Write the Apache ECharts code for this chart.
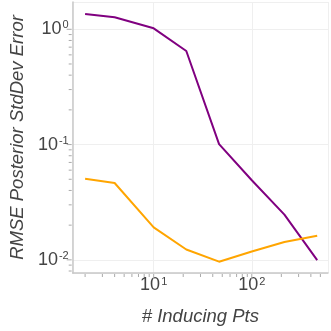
<!DOCTYPE html>
<html lang="en">
<head>
    <meta charset="UTF-8">
    <title>RMSE Posterior StdDev Error</title>
    <script src="https://cdn.jsdelivr.net/npm/echarts@6/dist/echarts.min.js"></script>
    <style>
        body { margin: 0; padding: 0; background: #fff; }
        #main { width: 331px; height: 331px; }
    </style>
</head>
<body>
    <div id="main"></div>

    <script>
        // number of inducing points (log spaced)
        const inducingPts = [2, 4, 10, 21.5, 46.4, 100, 215, 464];
        const purpleErr = [1.36, 1.27, 1.02, 0.648, 0.101, 0.049, 0.0247, 0.00995];
        const orangeErr = [0.0506, 0.0464, 0.0191, 0.0123, 0.00964, 0.0118, 0.0143, 0.0162];

        const xTicks = [2, 3, 4, 5, 6, 7, 8, 9, 10, 20, 30, 40, 50, 60, 70, 80, 90, 100, 200, 300, 400, 500];
        const yTicks = [0.008, 0.009, 0.01, 0.02, 0.03, 0.04, 0.05, 0.06, 0.07, 0.08, 0.09, 0.1,
            0.2, 0.3, 0.4, 0.5, 0.6, 0.7, 0.8, 0.9, 1];

        const X_MIN = 1.495, X_MAX = 598;
        const Y_MIN = 0.00769, Y_MAX = 1.725;

        const isPow10 = v => Math.abs(Math.log10(v) - Math.round(Math.log10(v))) < 1e-6;

        function powLabel(v) {
            if (!isPow10(v)) return '';
            const e = Math.round(Math.log10(v));
            return '{b|10}{s|' + e + '}';
        }

        const richText = {
            b: { fontSize: 18, color: '#444', fontFamily: 'Liberation Sans' },
            s: { fontSize: 11, color: '#444', fontFamily: 'Liberation Sans', verticalAlign: 'top', padding: [0, 0, 8, 1] }
        };

        const titleStyle = { fontSize: 18.5, fontStyle: 'italic', color: '#444', fontFamily: 'Liberation Sans' };

        const chart = echarts.init(document.getElementById('main'));

        const option = {
            animation: false,
            grid: { left: 61, right: 3, top: 2, bottom: 51 },
            xAxis: {
                type: 'log',
                min: X_MIN,
                max: X_MAX,
                name: '# Inducing Pts',
                nameLocation: 'middle',
                nameGap: 34,
                nameTextStyle: titleStyle,
                axisLine: { lineStyle: { color: '#c8c8c8', width: 1.5 } },
                axisTick: { show: false },
                axisLabel: { formatter: powLabel, margin: 3, rich: richText, showMinLabel: true, showMaxLabel: true },
                splitLine: { lineStyle: { color: '#efefef', width: 1 } }
            },
            yAxis: {
                type: 'log',
                min: Y_MIN,
                max: Y_MAX,
                name: 'RMSE Posterior StdDev Error',
                nameLocation: 'middle',
                nameGap: 34,
                nameTextStyle: titleStyle,
                axisLine: { show: true, lineStyle: { color: '#c8c8c8', width: 1.5 } },
                axisTick: { show: false },
                axisLabel: { formatter: powLabel, margin: 4, rich: richText },
                splitLine: { lineStyle: { color: '#efefef', width: 1 } }
            },
            series: [
                {
                    type: 'line',
                    data: inducingPts.map((x, i) => [x, purpleErr[i]]),
                    symbol: 'none',
                    lineStyle: { color: '#800080', width: 2 },
                    z: 3
                },
                {
                    type: 'line',
                    data: inducingPts.map((x, i) => [x, orangeErr[i]]),
                    symbol: 'none',
                    lineStyle: { color: '#ffa500', width: 2 },
                    z: 3
                },
                {
                    // tick marks on the x axis (log spaced)
                    type: 'custom',
                    silent: true,
                    clip: false,
                    data: xTicks.map(v => [v, Y_MIN]),
                    renderItem: function (params, api) {
                        const p = api.coord([api.value(0), api.value(1)]);
                        const len = isPow10(api.value(0)) ? 5 : 3;
                        return {
                            type: 'line',
                            shape: { x1: p[0], y1: p[1] + 1, x2: p[0], y2: p[1] + 1 + len },
                            style: { stroke: '#aaa', lineWidth: 1 }
                        };
                    }
                },
                {
                    // tick marks on the y axis (log spaced)
                    type: 'custom',
                    silent: true,
                    clip: false,
                    data: yTicks.map(v => [X_MIN, v]),
                    renderItem: function (params, api) {
                        const p = api.coord([api.value(0), api.value(1)]);
                        const len = isPow10(api.value(1)) ? 5 : 3;
                        return {
                            type: 'line',
                            shape: { x1: p[0] - 1, y1: p[1], x2: p[0] - 1 - len, y2: p[1] },
                            style: { stroke: '#aaa', lineWidth: 1 }
                        };
                    }
                }
            ]
        };

        chart.setOption(option);
    </script>
</body>
</html>
